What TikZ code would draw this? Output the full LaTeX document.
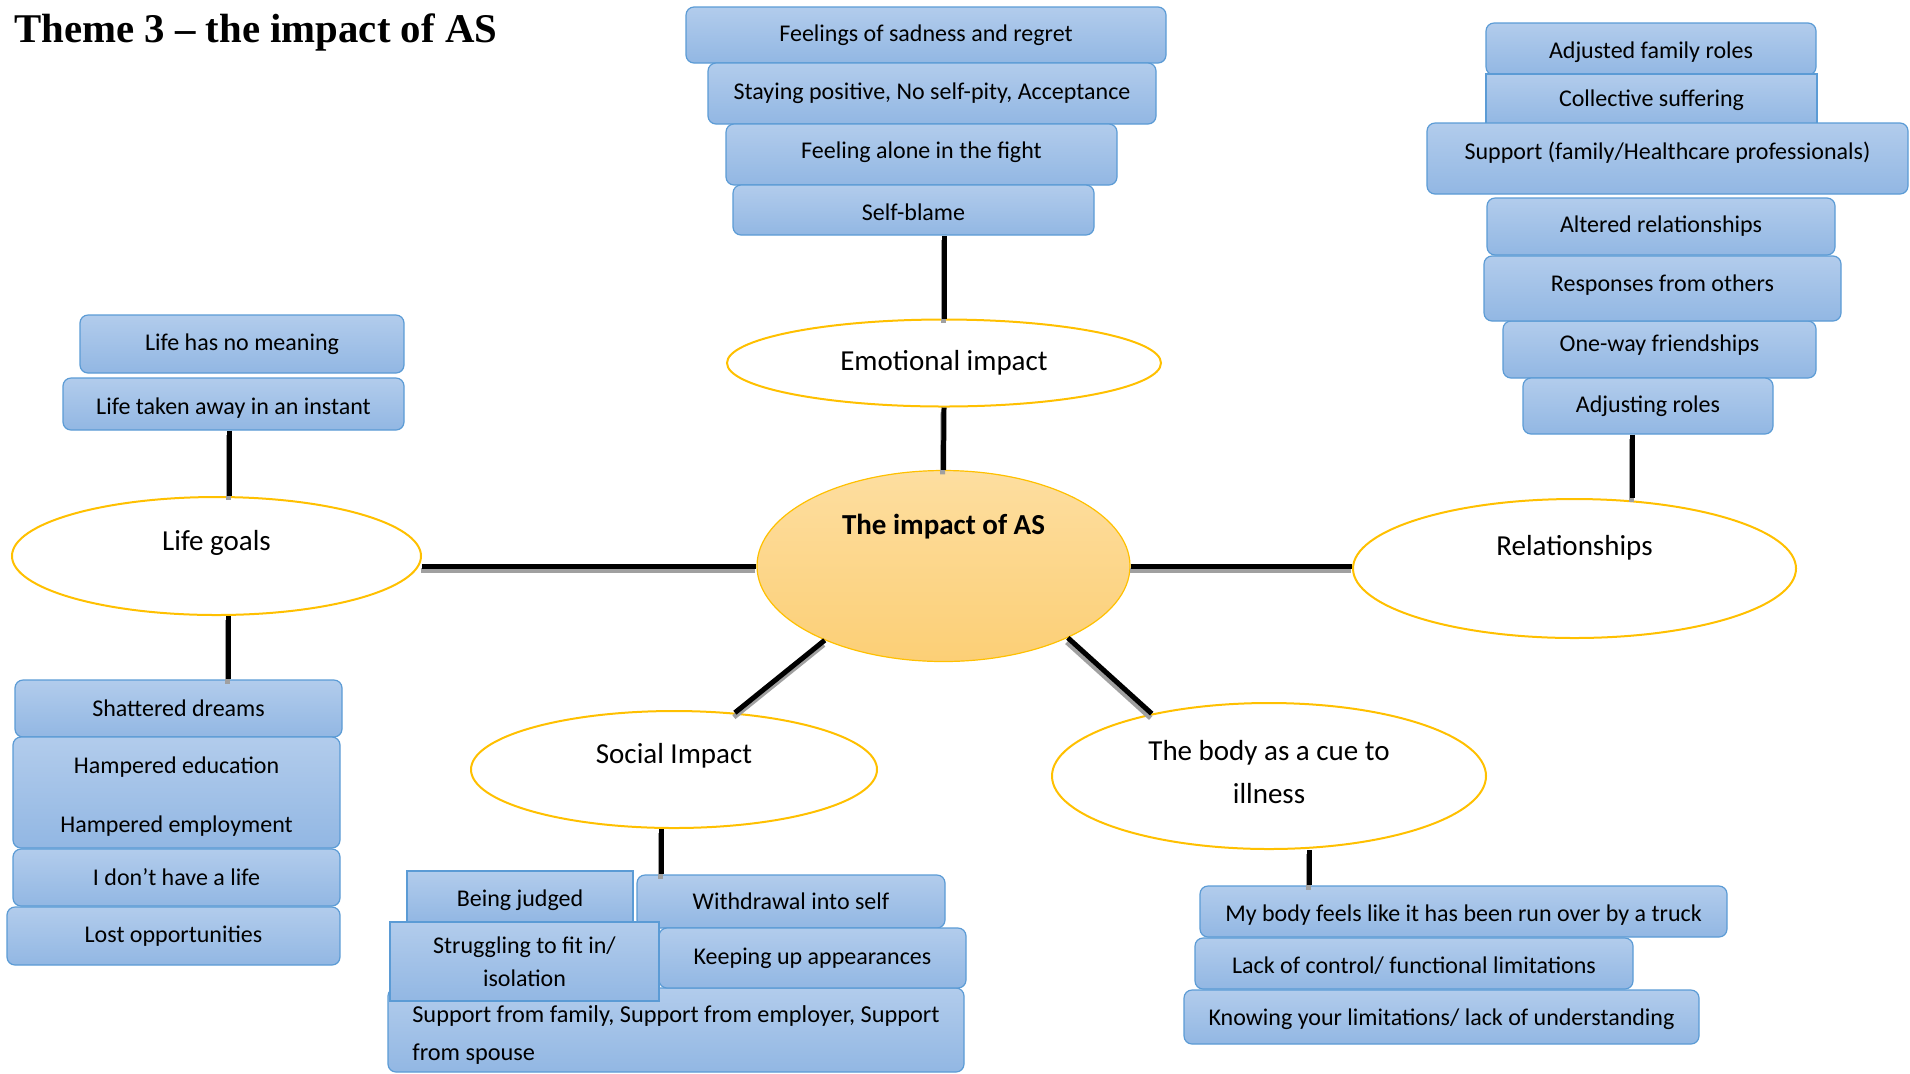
\documentclass[tikz,border=0pt]{standalone}
\usepackage{fontspec}
\setmainfont{Carlito}
\newfontfamily\titlefont{Liberation Serif}
\usetikzlibrary{shapes.geometric}

\definecolor{boxtop}{RGB}{178,204,236}
\definecolor{boxbot}{RGB}{146,183,227}
\definecolor{boxline}{RGB}{91,155,213}
\definecolor{ringline}{RGB}{255,192,0}
\definecolor{coretop}{RGB}{253,222,160}
\definecolor{corebot}{RGB}{252,207,118}
\definecolor{shade}{RGB}{160,160,160}

\tikzset{
  box/.style={draw=boxline, line width=0.6pt, top color=boxtop, bottom color=boxbot,
    rounded corners=4pt, inner sep=1pt, align=center, font=\fontsize{12}{14.5}\selectfont},
  sqbox/.style={box, sharp corners},
  boxsize/.style 2 args={minimum width=#1pt, minimum height=#2pt},
  ring/.style={ellipse, draw=ringline, line width=1pt, fill=white, inner sep=0pt,
    align=center, font=\fontsize{14.5}{17.5}\selectfont},
  link/.style={line width=2.5pt, preaction={draw=shade, line width=2.5pt,
    transform canvas={xshift=-0.5pt, yshift=-2.2pt}}},
}
\newcommand{\lift}[2]{\raisebox{#1}[0pt][0pt]{#2}}

\begin{document}
\begin{tikzpicture}[x=0.5pt, y=-0.5pt]
  \useasboundingbox (0,0) rectangle (1910,1073);

  \node[anchor=base west, inner sep=0pt, font=\titlefont\bfseries\fontsize{20.4}{24}\selectfont] (title) at (14,42) {Theme 3 – the impact of AS};

  % centre
  \node[ellipse, draw=ringline, line width=0.6pt, top color=coretop, bottom color=corebot,
    minimum width=186.5pt, minimum height=95.5pt, inner sep=0pt,
    font=\bfseries\fontsize{14.5}{17.5}\selectfont] (impact) at (943.5,566) {\lift{15.8pt}{The impact of AS}};

  % emotional impact
  \node[box, boxsize={240}{28}] (emoA) at (926,35) {Feelings of sadness and regret};
  \node[box, boxsize={224}{30.5}] (emoB) at (932,93.5) {Staying positive, No self-pity, Acceptance};
  \node[box, boxsize={195.5}{30.5}] (emoC) at (921.5,154.5) {\lift{-2pt}{Feeling alone in the fight}};
  \node[box, boxsize={180.5}{25}] (emoD) at (913.5,210) {\lift{-5.3pt}{Self-blame}};
  \node[ring, minimum width=217pt, minimum height=43.5pt] (emo) at (944,363) {Emotional impact};

  % relationships
  \node[box, boxsize={165}{26}] (relA) at (1651,49) {\lift{-4.7pt}{Adjusted family roles}};
  \node[sqbox, boxsize={165.5}{25}] (relB) at (1651.5,99) {\lift{-3.8pt}{Collective suffering}};
  \node[box, boxsize={240.5}{35.5}] (relC) at (1667.5,158.5) {\lift{-0.7pt}{Support (family/Healthcare professionals)}};
  \node[box, boxsize={174}{28.5}] (relD) at (1661,226.5) {Altered relationships};
  \node[box, boxsize={156.5}{28.5}] (relF) at (1659.5,349.5) {\lift{-0.8pt}{One-way friendships}};
  \node[box, boxsize={178.5}{32.5}] (relE) at (1662.5,288.5) {\lift{-1.7pt}{Responses from others}};
  \node[box, boxsize={125}{28}] (relG) at (1648,406) {Adjusting roles};
  \node[ring, minimum width=221.5pt, minimum height=69.5pt] (rel) at (1574.5,568.5) {\lift{6.3pt}{Relationships}};

  % life goals
  \node[box, boxsize={162}{29}] (lifeA) at (242,344) {Life has no meaning};
  \node[box, boxsize={170.5}{26}] (lifeB) at (233.5,404) {\lift{-5.3pt}{Life taken away in an instant}};
  \node[ring, minimum width=204.5pt, minimum height=59pt] (life) at (216.5,556) {\lift{2.8pt}{Life goals}};
  \node[box, boxsize={163.5}{28.5}] (lifeC) at (178.5,708.5) {Shattered dreams};
  \node[box, boxsize={163.5}{55.5}] (lifeD) at (176.5,792.5) {\rule{0pt}{12.6pt}Hampered education\\[15.2pt]Hampered employment};
  \node[box, boxsize={163.5}{28.5}] (lifeE) at (176.5,877.5) {I don’t have a life};
  \node[box, boxsize={166.5}{29}] (lifeF) at (173.5,936) {Lost opportunities};

  % social impact
  \node[ring, minimum width=203pt, minimum height=58.5pt] (social) at (674,769.5) {\lift{2.8pt}{Social Impact}};
  \node[sqbox, boxsize={113}{25.5}] (socA) at (520,896.5) {\lift{-5pt}{Being judged}};
  \node[box, boxsize={154}{26.5}] (socB) at (791,901.5) {Withdrawal into self};
  \node[box, boxsize={288}{42}, align=left, font=\fontsize{12.15}{14.5}\selectfont] (socE) at (676,1030)
    {\rule{0pt}{13.8pt}Support from family, Support from employer, Support\\[4.4pt]from spouse};
  \node[box, boxsize={153.5}{30}] (socD) at (812.5,958) {Keeping up appearances};
  \node[sqbox, boxsize={134.5}{39.5}] (socC) at (524.5,961.5) {Struggling to fit in/\\[2pt]isolation};

  % the body
  \node[ring, minimum width=217pt, minimum height=73pt] (body) at (1269,776) {\raisebox{4.5pt}{The body as a cue to}\\[4pt]\raisebox{4.5pt}{illness}};
  \node[box, boxsize={263.5}{25.5}] (bodA) at (1463.5,911.5) {\lift{-5pt}{My body feels like it has been run over by a truck}};
  \node[box, boxsize={219}{25.5}] (bodB) at (1414,963.5) {\lift{-5pt}{Lack of control/ functional limitations}};
  \node[box, boxsize={257.5}{27}] (bodC) at (1441.5,1017) {\lift{-4.4pt}{Knowing your limitations/ lack of understanding}};

  % connectors
  \draw[link] (emo.north) -- (emo.north |- emoD.south);
  \draw[link] (emo.south) -- (impact.north);
  \draw[link] (impact.west) -- (impact.west -| life.east);
  \draw[link] (impact.east) -- (impact.east -| rel.west);
  \draw[link] (impact.212) -- (social.43);
  \draw[link] (impact.330) -- (body.152);
  \draw[link] ([xshift=-8pt]relG.south) -- ([xshift=-8pt]relG.south |- rel.north);
  \draw[link] ([xshift=-2pt]lifeB.south) -- ([xshift=-2pt]lifeB.south |- life.north);
  \draw[link] ([xshift=6pt]life.south) -- ([xshift=6pt]life.south |- lifeC.north);
  \draw[link] ([xshift=-6.5pt]social.south) -- ([xshift=-6.5pt]social.south |- socB.north);
  \draw[link] ([xshift=20pt]body.south) -- ([xshift=20pt]body.south |- bodA.north);
\end{tikzpicture}
\end{document}
